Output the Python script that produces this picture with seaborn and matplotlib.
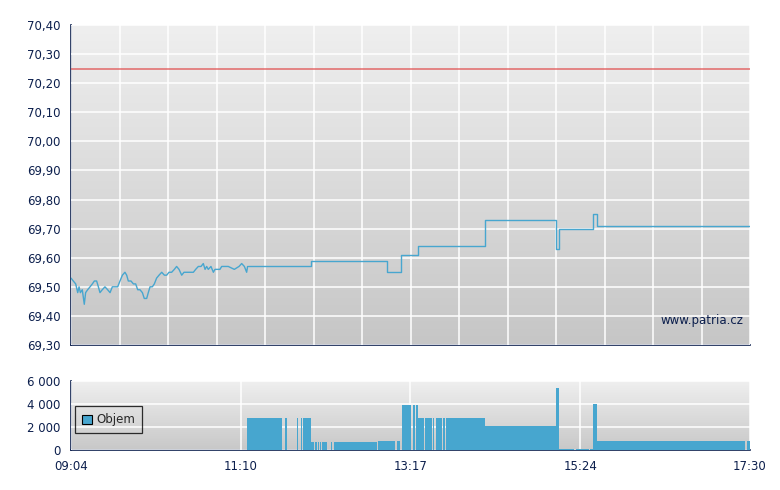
import numpy as np
import pandas as pd
import seaborn as sns
import matplotlib
matplotlib.use("Agg")
import matplotlib.pyplot as plt
from matplotlib.patches import Patch
from matplotlib.ticker import FuncFormatter

# minutes after 09:04 and price
price_min = [0, 1.7, 3.5, 5.0, 6.0, 7.0, 8.4, 9.9, 10.9, 12.4, 14.2, 15.9, 17.4, 19.1,
             20.4, 21.6, 23.3, 25.3, 27.3, 29.1, 30.8, 32.8, 34.8, 36.5, 38.3, 40.2,
             41.5, 42.7, 44.7, 46.5, 48.2, 49.7, 51.4, 53.2, 54.6, 56.4, 57.6, 58.9,
             60.6, 62.1, 63.8, 65.6, 67.6, 69.6, 71.3, 73.0, 75.0, 77.0, 78.7, 80.5,
             82.5, 84.2, 86.2, 88.7, 91.2, 92.9, 94.9, 96.9, 98.6, 99.9, 101.1, 102.3,
             104.3, 106.1, 107.3, 109.3, 111.0, 112.3, 117.2, 121.7, 125.2, 127.2,
             129.2, 130.9, 131.6, 178.8, 235.8, 245.7, 258.3, 308.8, 361.2, 363.9,
             389.2, 391.7, 506]
price = [69.53, 69.52, 69.51, 69.48, 69.50, 69.48, 69.49, 69.44, 69.48, 69.49, 69.50,
         69.51, 69.52, 69.52, 69.50, 69.48, 69.49, 69.50, 69.49, 69.48, 69.50, 69.50,
         69.50, 69.52, 69.54, 69.55, 69.54, 69.52, 69.52, 69.51, 69.51, 69.49, 69.49,
         69.48, 69.46, 69.46, 69.48, 69.50, 69.50, 69.51, 69.53, 69.54, 69.55, 69.54,
         69.54, 69.55, 69.55, 69.56, 69.57, 69.56, 69.54, 69.55, 69.55, 69.55, 69.55,
         69.56, 69.57, 69.57, 69.58, 69.56, 69.57, 69.56, 69.57, 69.55, 69.56, 69.56,
         69.56, 69.57, 69.57, 69.56, 69.57, 69.58, 69.57, 69.55, 69.57, 69.59, 69.55,
         69.61, 69.64, 69.73, 69.63, 69.70, 69.75, 69.71, 69.71]
ref_price = 70.25

# volume blocks: start, end (minutes after 09:04), volume
vol_start = [131.2, 159.6, 168.4, 171.4, 172.9, 178.8, 181.8, 183.8, 185.3, 187.1, 193.8,
             196.0, 228.8, 236.2, 242.7, 246.7, 254.9, 257.1, 258.6, 263.8, 269.8, 272.0,
             277.2, 279.5, 308.5, 361.4, 363.7, 376.3, 386.8, 389.0, 392.0, 503.8]
vol_end = [157.2, 161.0, 169.2, 172.1, 178.8, 180.9, 183.1, 184.6, 186.0, 190.8, 194.5,
           228.0, 236.2, 241.2, 245.2, 253.4, 256.3, 258.6, 263.1, 269.0, 270.5, 276.5,
           278.7, 308.5, 361.4, 363.7, 374.8, 386.0, 389.0, 392.0, 502.3, 506.0]
vol = [2800, 2800, 2800, 2800, 2800, 700, 700, 700, 700, 700, 700, 700, 750, 800, 800,
       3900, 3900, 3900, 2800, 2800, 2800, 2800, 2800, 2800, 2100, 5400, 100, 100, 100,
       4000, 780, 780]

time_labels = ["09:04", "11:10", "13:17", "15:24", "17:30"]
session_len = 506

navy = "#0c1f4d"
blue = "#47a6cf"

sns.set_style("white")
plt.rcParams["font.family"] = ["DejaVu Sans"]

fig = plt.figure(figsize=(7.8, 4.9), dpi=100)
ax = fig.add_axes([71 / 780, 1 - 345 / 490, 679 / 780, 320 / 490])
axv = fig.add_axes([71 / 780, 1 - 450 / 490, 679 / 780, 69 / 490])


def gradient(a, top, bottom):
    g = np.linspace(0, 1, 256).reshape(-1, 1)
    cmap = matplotlib.colors.LinearSegmentedColormap.from_list("g", [top, bottom])
    a.imshow(g, cmap=cmap, aspect="auto", extent=[0, 1, 0, 1],
             transform=a.transAxes, zorder=0)


def style(a):
    for s in ["top", "right"]:
        a.spines[s].set_visible(False)
    for s in ["left", "bottom"]:
        a.spines[s].set_color(navy)
        a.spines[s].set_linewidth(1.2)
    a.tick_params(colors=navy, labelsize=8.5, length=4, width=1, direction="out")
    a.grid(True, color="white", linewidth=1.1, zorder=1)
    a.set_axisbelow(False)


# price panel: busy morning drawn as a plain line, the quiet afternoon as steps
gradient(ax, "#efefef", "#c6c6c6")
df = pd.DataFrame({"t": price_min, "p": price})
busy = df[df["t"] <= 131.6]
quiet = df[df["t"] >= 131.6]
sns.lineplot(data=busy, x="t", y="p", ax=ax, color=blue, linewidth=1.0, zorder=3)
sns.lineplot(data=quiet, x="t", y="p", ax=ax, color=blue, linewidth=1.0,
             drawstyle="steps-post", zorder=3)
ax.axhline(ref_price, color="#e04848", linewidth=1.1, alpha=0.8, zorder=3)
ax.set_xlim(0, session_len)
ax.set_ylim(69.3, 70.4)
ax.set_yticks(np.arange(69.3, 70.41, 0.1))
ax.yaxis.set_major_formatter(FuncFormatter(lambda v, p: f"{v:.2f}".replace(".", ",")))
ax.set_xticks(np.linspace(0, session_len, 15))
ax.set_xticklabels([])
ax.set_xlabel("")
ax.set_ylabel("")
style(ax)
ax.text(0.99, 0.055, "www.patria.cz", transform=ax.transAxes, ha="right", va="bottom",
        color=navy, fontsize=8.5, zorder=4)

# volume panel
gradient(axv, "#efefef", "#c8c8c8")
widths = [e - s for s, e in zip(vol_start, vol_end)]
axv.bar(vol_start, vol, width=widths, align="edge", color=blue, linewidth=0, zorder=3)
axv.set_xlim(0, session_len)
axv.set_ylim(0, 6000)
axv.set_yticks([0, 2000, 4000, 6000])
axv.yaxis.set_major_formatter(FuncFormatter(lambda v, p: f"{int(v):,}".replace(",", " ")))
axv.set_xticks(np.linspace(0, session_len, len(time_labels)))
axv.set_xticklabels(time_labels)
style(axv)
leg = axv.legend(handles=[Patch(facecolor=blue, edgecolor="black", linewidth=0.8, label="Objem")],
                 loc="lower left", bbox_to_anchor=(0.006, 0.24), borderaxespad=0,
                 fancybox=False, frameon=True, fontsize=8.5, handlelength=0.8,
                 handleheight=0.8, handletextpad=0.4, borderpad=0.6)
leg.get_frame().set_edgecolor("black")
leg.get_frame().set_facecolor("none")
leg.get_frame().set_linewidth(0.9)

fig.savefig("out.png", dpi=100)
